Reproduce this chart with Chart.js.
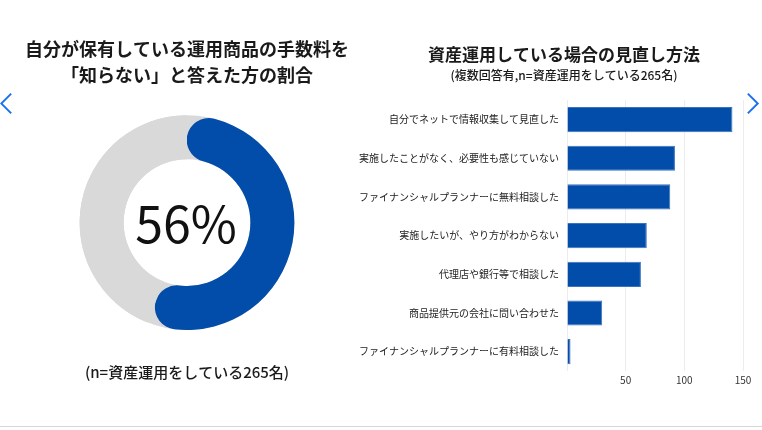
<!DOCTYPE html>
<html lang="ja">
<head>
<meta charset="utf-8">
<script src="https://cdn.jsdelivr.net/npm/chart.js@4"></script>
<style>
  html, body { margin:0; padding:0; background:#fff; }
  body { width:762px; height:430px; position:relative; overflow:hidden; font-family:"Noto Sans CJK JP","Noto Sans",sans-serif; }
  #left { position:absolute; left:0; top:0; }
  #right { position:absolute; left:340px; top:0; }
  .chev { position:absolute; width:13px; height:13px; border-color:#1a6ff0; border-style:solid; border-width:0; }
  #prev { left:3px; top:96px; border-left-width:2.5px; border-bottom-width:2.5px; transform:rotate(45deg); }
  #next { left:741px; top:96px; border-right-width:2.5px; border-top-width:2.5px; transform:rotate(45deg); }
  #baseline { position:absolute; left:0; top:426px; width:762px; height:0; border-top:1px solid #d6d6d6; }
</style>
</head>
<body>
<canvas id="left" width="381" height="430"></canvas>
<canvas id="right" width="422" height="430"></canvas>
<div class="chev" id="prev"></div>
<div class="chev" id="next"></div>
<div id="baseline"></div>
<script>
// ---- Data ----
const donutTitle = ['自分が保有している運用商品の手数料を', '「知らない」と答えた方の割合'];
const donutLabels = ['知らない', 'それ以外'];
const donutValues = [56, 44];
const donutNote = '(n=資産運用をしている265名)';

const barTitle = '資産運用している場合の見直し方法';
const barSubtitle = '(複数回答有,n=資産運用をしている265名)';
const methodLabels = [
  '自分でネットで情報収集して見直した',
  '実施したことがなく、必要性も感じていない',
  'ファイナンシャルプランナーに無料相談した',
  '実施したいが、やり方がわからない',
  '代理店や銀行等で相談した',
  '商品提供元の会社に問い合わせた',
  'ファイナンシャルプランナーに有料相談した'
];
const methodCounts = [141, 92, 88, 68, 63, 30, 3];
const xTickMax = 150;
const xTickStep = 50;

const BLUE = '#024CAA';
const GRAY = '#D9D9D9';
const FONT = '"Noto Sans CJK JP", "Noto Sans", sans-serif';

// ---- Donut ----
const ringBg = {
  id: 'ringBg',
  beforeDatasetsDraw(chart) {
    const arc = chart.getDatasetMeta(0).data[0];
    if (!arc) return;
    const { x, y, innerRadius, outerRadius } = arc.getProps(['x','y','innerRadius','outerRadius'], true);
    const ctx = chart.ctx;
    ctx.save();
    ctx.beginPath();
    ctx.arc(x, y, outerRadius, 0, Math.PI * 2);
    ctx.arc(x, y, innerRadius, Math.PI * 2, 0, true);
    ctx.closePath();
    ctx.fillStyle = GRAY;
    ctx.fill();
    ctx.restore();
  }
};
const centerLabel = {
  id: 'centerLabel',
  afterDatasetsDraw(chart) {
    const arc = chart.getDatasetMeta(0).data[0];
    if (!arc) return;
    const ctx = chart.ctx;
    ctx.save();
    ctx.font = '400 50px ' + FONT;
    ctx.fillStyle = '#111';
    ctx.textAlign = 'center';
    ctx.textBaseline = 'middle';
    ctx.fillText(donutValues[0] + '%', arc.x - 1, arc.y + 1);
    ctx.restore();
  }
};

new Chart(document.getElementById('left'), {
  type: 'doughnut',
  data: {
    labels: donutLabels,
    datasets: [{
      data: donutValues,
      backgroundColor: [BLUE, GRAY],
      borderWidth: 0,
      borderRadius: [60, 0],
      hoverOffset: 0
    }]
  },
  options: {
    responsive: false,
    animation: false,
    cutout: '59%',
    layout: { padding: { left: 0, right: 7, top: 0, bottom: 0 } },
    events: [],
    plugins: {
      legend: { display: false },
      tooltip: { enabled: false },
      title: {
        display: true,
        text: donutTitle,
        color: '#1a1a1a',
        font: { family: FONT, size: 18, weight: 'bold', lineHeight: 1.45 },
        padding: { top: 36, bottom: 27 }
      },
      subtitle: {
        display: true,
        position: 'bottom',
        text: donutNote,
        color: '#1a1a1a',
        font: { family: FONT, size: 15, weight: '500', lineHeight: 1.2 },
        padding: { top: 33, bottom: 49 }
      }
    }
  },
  plugins: [ringBg, centerLabel]
});

// ---- Bars ----
new Chart(document.getElementById('right'), {
  type: 'bar',
  data: {
    labels: methodLabels,
    datasets: [{
      data: methodCounts,
      backgroundColor: BLUE,
      borderColor: '#3A72BE',
      borderWidth: 1,
      categoryPercentage: 0.8,
      barPercentage: 0.814
    }]
  },
  options: {
    indexAxis: 'y',
    responsive: false,
    animation: false,
    events: [],
    layout: { padding: { left: 45, right: 19, top: 0, bottom: 41 } },
    scales: {
      x: {
        min: 0,
        max: xTickMax,
        border: { display: false },
        grid: { color: '#ECECEC', drawTicks: false },
        ticks: {
          stepSize: xTickStep,
          padding: 3,
          color: '#333',
          font: { family: FONT, size: 10 },
          callback: v => (v === 0 ? '' : v)
        }
      },
      y: {
        border: { display: false },
        grid: { display: false, drawTicks: false },
        ticks: {
          padding: 8,
          color: '#222',
          font: { family: FONT, size: 10 }
        },
        afterFit(scale) {
          scale.width = 182;
          // let long category labels extend into the left padding instead of being clipped
          scale._computeLabelArea = () => undefined;
        }
      }
    },
    plugins: {
      legend: { display: false },
      tooltip: { enabled: false },
      title: {
        display: true,
        text: barTitle,
        color: '#1a1a1a',
        font: { family: FONT, size: 17, weight: 'bold', lineHeight: 1.2 },
        padding: { top: 44, bottom: 0 }
      },
      subtitle: {
        display: true,
        text: barSubtitle,
        color: '#1a1a1a',
        font: { family: FONT, size: 12, weight: '500', lineHeight: 1.2 },
        padding: { top: 3.6, bottom: 17.8 }
      }
    }
  }
});
</script>
</body>
</html>
